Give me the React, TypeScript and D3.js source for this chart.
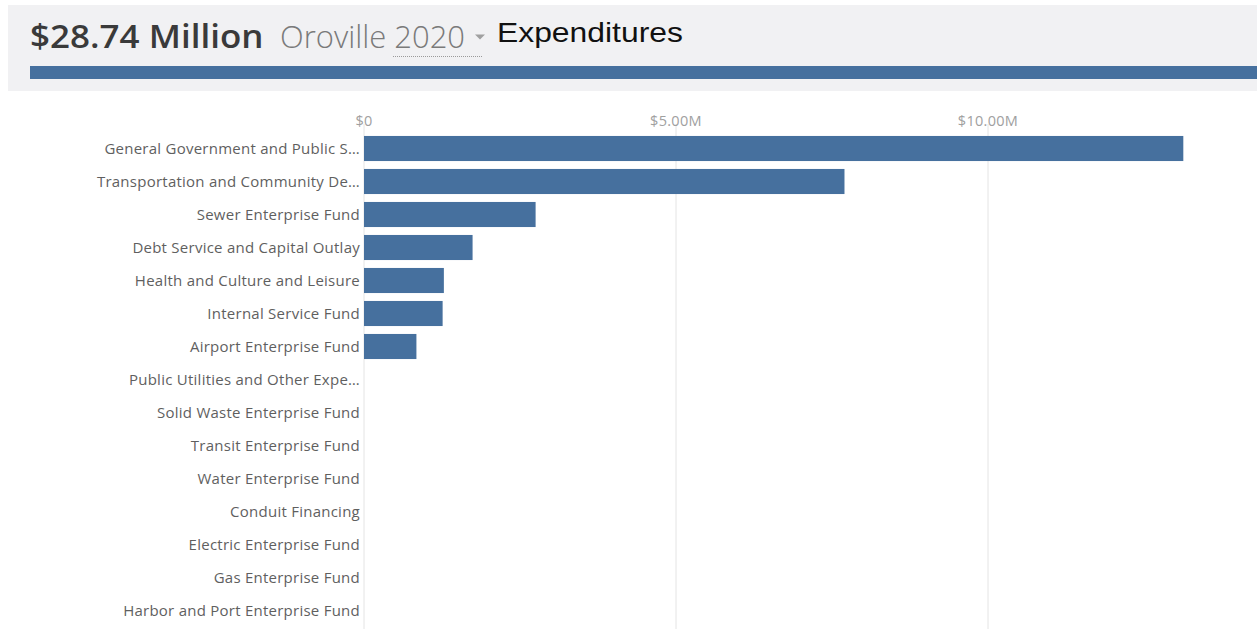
import * as React from 'react';
import * as d3 from 'd3';

const categories = [
  'General Government and Public S…',
  'Transportation and Community De…',
  'Sewer Enterprise Fund',
  'Debt Service and Capital Outlay',
  'Health and Culture and Leisure',
  'Internal Service Fund',
  'Airport Enterprise Fund',
  'Public Utilities and Other Expe…',
  'Solid Waste Enterprise Fund',
  'Transit Enterprise Fund',
  'Water Enterprise Fund',
  'Conduit Financing',
  'Electric Enterprise Fund',
  'Gas Enterprise Fund',
  'Harbor and Port Enterprise Fund',
];

// expenditures in dollars
const values = [13130000, 7700000, 2750000, 1740000, 1280000, 1260000, 840000, 0, 0, 0, 0, 0, 0, 0, 0];

const tickValues = [0, 5000000, 10000000];

const WIDTH = 1257;
const HEIGHT = 629;
const BLUE = '#46709e';

export default function App() {
  const ref = React.useRef<SVGSVGElement>(null);

  React.useEffect(() => {
    document.body.style.margin = '0';
    const svg = d3.select(ref.current);
    svg.selectAll('*').remove();

    // header panel
    svg.append('rect')
      .attr('x', 8).attr('y', 5)
      .attr('width', WIDTH - 8).attr('height', 86)
      .attr('fill', '#f1f1f3');

    svg.append('rect')
      .attr('x', 30).attr('y', 66)
      .attr('width', WIDTH - 30).attr('height', 13)
      .attr('fill', BLUE);

    // header texts, widened a bit like the reference
    svg.append('text')
      .attr('transform', 'translate(30,48) scale(1.06,1)')
      .style('font-family', '"Open Sans", sans-serif')
      .attr('font-size', 33).attr('font-weight', 600).attr('fill', '#3a3a3a')
      .text('$28.74 Million');

    svg.append('text')
      .attr('x', 280).attr('y', 48)
      .style('font-family', '"Open Sans", sans-serif')
      .attr('font-size', 31).attr('font-weight', 300).attr('fill', '#7a7a7a')
      .text('Oroville 2020');

    // dotted underline under year
    svg.append('line')
      .attr('x1', 393).attr('x2', 482).attr('y1', 56.5).attr('y2', 56.5)
      .attr('stroke', '#9a9a9a').attr('stroke-dasharray', '1,1');

    // caret
    svg.append('path')
      .attr('d', 'M475,34.5 L485,34.5 L480,39.5 Z')
      .attr('fill', '#a0a0a0');

    svg.append('text')
      .attr('transform', 'translate(497,42) scale(1.18,1)')
      .style('font-family', '"Liberation Sans", Arial, sans-serif')
      .attr('font-size', 27).attr('fill', '#111')
      .text('Expenditures');

    // chart
    const x = d3.scaleLinear().domain([0, 5000000]).range([364, 676]);
    const y = d3.scaleBand<string>()
      .domain(categories)
      .range([132, 132 + 33 * categories.length])
      .paddingInner(0.24)
      .paddingOuter(0.12);

    const grid = svg.append('g');
    grid.selectAll('line')
      .data(tickValues)
      .enter()
      .append('line')
      .attr('x1', (d) => x(d)).attr('x2', (d) => x(d))
      .attr('y1', 124).attr('y2', HEIGHT)
      .attr('stroke', '#e4e4e4').attr('stroke-width', 1);

    const fmt = (d: number) => (d === 0 ? '$0' : `$${(d / 1e6).toFixed(2)}M`);
    svg.append('g')
      .selectAll('text')
      .data(tickValues)
      .enter()
      .append('text')
      .attr('x', (d) => x(d)).attr('y', 126)
      .attr('text-anchor', 'middle')
      .style('font-family', '"Open Sans", sans-serif')
      .style('letter-spacing', '0.3px')
      .attr('font-size', 14.5).attr('fill', '#a0a0a0')
      .text(fmt);

    svg.append('g')
      .selectAll('rect')
      .data(values)
      .enter()
      .append('rect')
      .attr('x', x(0))
      .attr('y', (_d, i) => y(categories[i]) ?? 0)
      .attr('width', (d) => x(d) - x(0))
      .attr('height', y.bandwidth())
      .attr('fill', BLUE);

    svg.append('g')
      .selectAll('text')
      .data(categories)
      .enter()
      .append('text')
      .attr('x', 360)
      .attr('y', (d) => (y(d) ?? 0) + y.bandwidth() / 2)
      .attr('dy', '0.35em')
      .attr('text-anchor', 'end')
      .style('font-family', '"Open Sans", sans-serif')
      .style('letter-spacing', '0.25px')
      .attr('font-size', 15).attr('fill', '#5f5f5f')
      .text((d) => d);
  }, []);

  return <svg ref={ref} width={WIDTH} height={HEIGHT} style={{ display: 'block' }} />;
}
